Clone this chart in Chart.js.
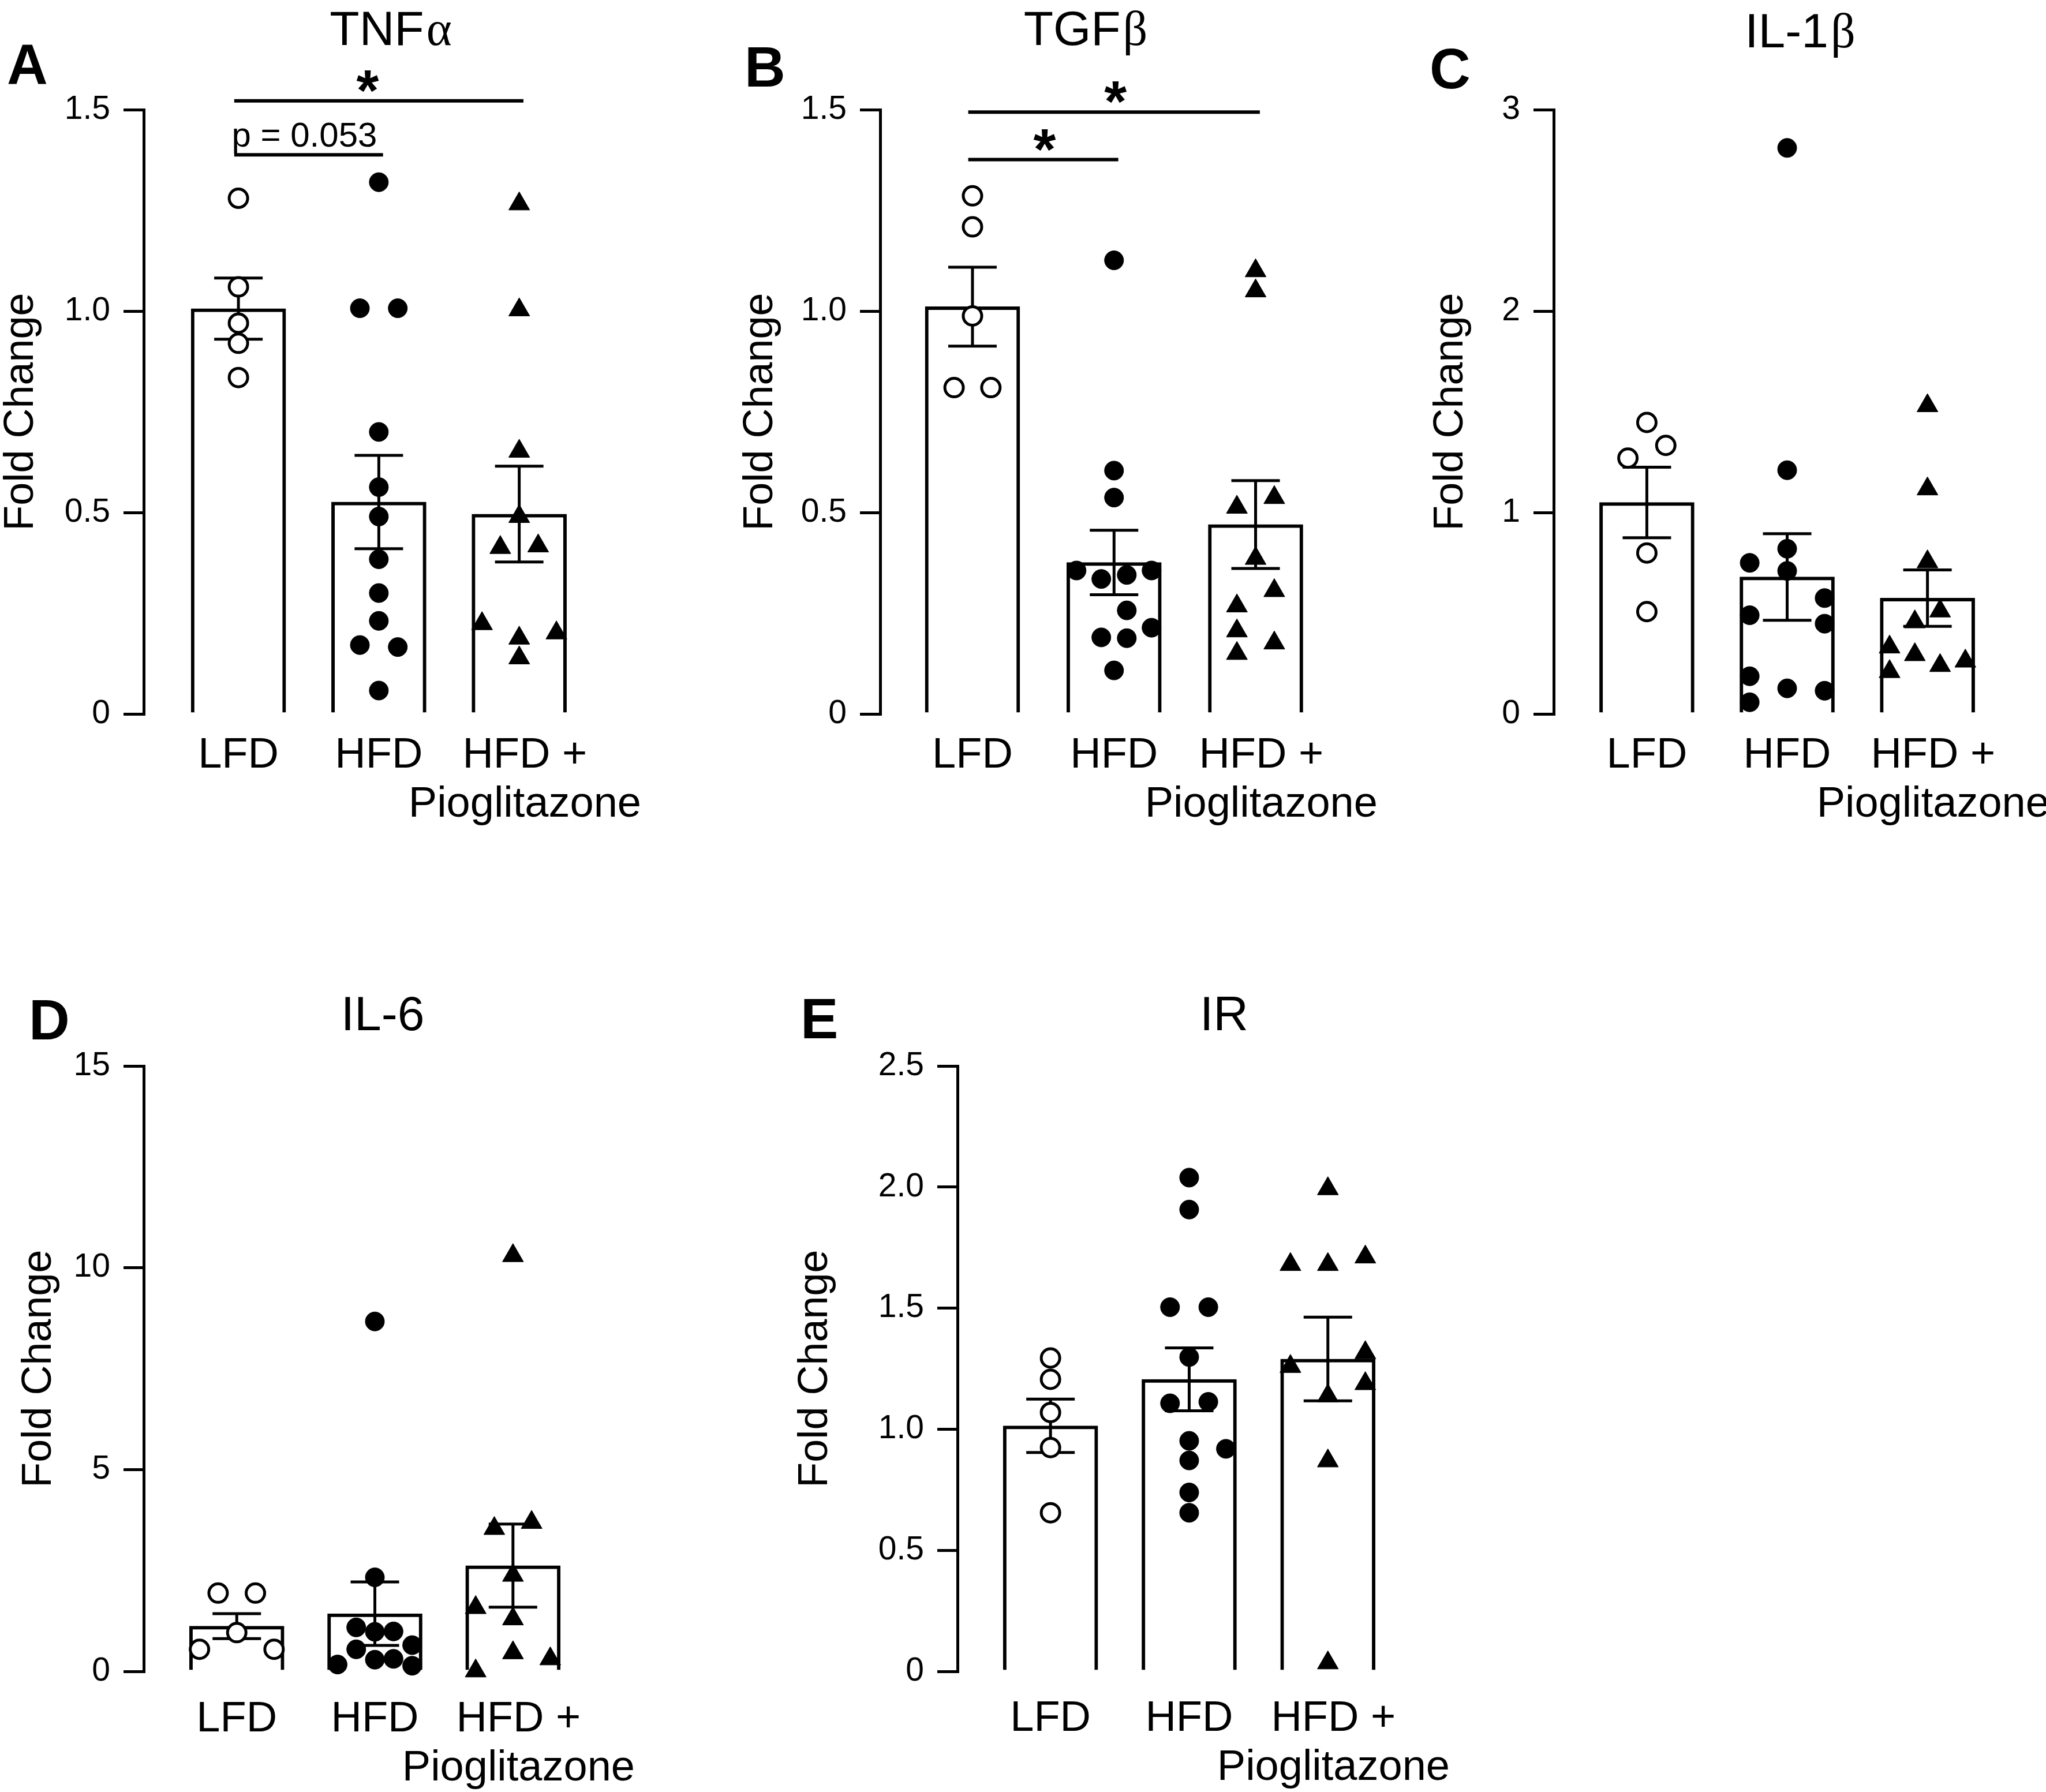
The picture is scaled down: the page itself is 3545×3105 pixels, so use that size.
<!DOCTYPE html>
<html>
<head>
<meta charset="utf-8">
<script src="https://cdn.jsdelivr.net/npm/chart.js@4.4.1/dist/chart.umd.min.js"></script>
<style>
html, body { margin: 0; padding: 0; background: #fff; overflow: hidden; }
#page { position: relative; width: 3545px; height: 3105px; background: #fff; }
canvas { position: absolute; }
</style>
</head>
<body>
<div id="page">
  <canvas id="tnf"></canvas>
  <canvas id="tgf"></canvas>
  <canvas id="il1"></canvas>
  <canvas id="il6"></canvas>
  <canvas id="ir"></canvas>
</div>
<script>
// groups on the x axis
const groups = ['LFD', 'HFD', ['HFD +', 'Pioglitazone']];

// A - TNFα
const tnfPoints = [
  [1.28, 1.06, 0.97, 0.92, 0.835],
  [1.32, 1.007, 1.007, 0.70, 0.563, 0.49, 0.384, 0.30, 0.231, 0.171, 0.166, 0.058],
  [1.266, 1.003, 0.652, 0.49, 0.413, 0.417, 0.224, 0.188, 0.201, 0.139]
];
const tnfJitter = [
  [0, 0, 0, 0, 0],
  [0, -0.135, 0.135, 0, 0, 0, 0, 0, 0, -0.135, 0.135, 0],
  [0, 0, 0, 0, -0.135, 0.135, -0.265, 0, 0.265, 0]
];
const tnfMean = [1.006, 0.526, 0.496];
const tnfSem = [0.076, 0.116, 0.119];
const tnfTicks = [0, 0.5, 1, 1.5];
const tnfTickLabels = ['0', '0.5', '1.0', '1.5'];
// [from group, to group, height, label, label at]
const tnfSig = [[0, 2, 1.522, '*', 0.92], [0, 1, 1.388, 'p = 0.053', 0.47]];

// B - TGFβ
const tgfPoints = [
  [1.286, 1.209, 0.988, 0.81, 0.81],
  [1.126, 0.604, 0.537, 0.356, 0.356, 0.335, 0.345, 0.257, 0.214, 0.19, 0.188, 0.108],
  [1.10, 1.05, 0.513, 0.537, 0.386, 0.306, 0.268, 0.206, 0.176, 0.15]
];
const tgfJitter = [
  [0, 0, 0, -0.13, 0.13],
  [0, 0, 0, -0.265, 0.265, -0.09, 0.09, 0.09, 0.265, -0.09, 0.09, 0],
  [0, 0, -0.132, 0.132, 0, 0.132, -0.132, -0.132, 0.132, -0.132]
];
const tgfMean = [1.011, 0.376, 0.47];
const tgfSem = [0.098, 0.08, 0.109];
const tgfTicks = [0, 0.5, 1, 1.5];
const tgfTickLabels = ['0', '0.5', '1.0', '1.5'];
const tgfSig = [[0, 2, 1.494, '*', 1.01], [0, 1, 1.376, '*', 0.51]];

// C - IL-1β
const il1Points = [
  [1.447, 1.333, 1.27, 0.799, 0.508],
  [2.81, 1.21, 0.82, 0.75, 0.71, 0.575, 0.49, 0.448, 0.187, 0.127, 0.115, 0.058],
  [1.53, 1.117, 0.755, 0.511, 0.457, 0.332, 0.294, 0.24, 0.262, 0.21]
];
const il1Jitter = [
  [0, 0.135, -0.135, 0, 0],
  [0, 0, 0, -0.267, 0, 0.267, -0.267, 0.267, -0.267, 0, 0.267, -0.267],
  [0, 0, 0, 0.09, -0.09, -0.27, -0.09, 0.09, 0.27, -0.27]
];
const il1Mean = [1.05, 0.68, 0.575];
const il1Sem = [0.175, 0.215, 0.14];
const il1Ticks = [0, 1, 2, 3];
const il1TickLabels = ['0', '1', '2', '3'];

// D - IL-6
const il6Points = [
  [1.94, 1.94, 0.96, 0.547, 0.547],
  [8.67, 2.33, 1.09, 0.98, 0.99, 0.547, 0.65, 0.17, 0.29, 0.31, 0.14],
  [10.3, 3.69, 3.54, 2.38, 1.58, 1.30, 0.46, 0.31, 0.01]
];
const il6Jitter = [
  [-0.135, 0.135, 0, -0.27, 0.27],
  [0, 0, -0.135, 0, 0.135, -0.135, 0.27, -0.27, 0, 0.135, 0.27],
  [0, 0.135, -0.135, 0, -0.27, 0, 0, 0.27, -0.27]
];
const il6Mean = [1.12, 1.43, 2.62];
const il6Sem = [0.31, 0.785, 1.03];
const il6Ticks = [0, 5, 10, 15];
const il6TickLabels = ['0', '5', '10', '15'];

// E - IR
const irPoints = [
  [1.294, 1.206, 1.069, 0.924, 0.655],
  [2.039, 1.907, 1.504, 1.504, 1.298, 1.107, 1.113, 0.952, 0.919, 0.871, 0.739, 0.655],
  [1.993, 1.68, 1.68, 1.711, 1.316, 1.259, 1.188, 1.138, 0.869, 0.035]
];
const irJitter = [
  [0, 0, 0, 0, 0],
  [0, 0, -0.138, 0.138, 0, -0.138, 0.138, 0, 0.265, 0, 0, 0],
  [0, -0.27, 0, 0.27, 0.27, -0.27, 0.27, 0, 0, 0]
];
const irMean = [1.014, 1.206, 1.29];
const irSem = [0.11, 0.13, 0.173];
const irTicks = [0, 0.5, 1, 1.5, 2, 2.5];
const irTickLabels = ['0', '0.5', '1.0', '1.5', '2.0', '2.5'];

const SANS = '"Liberation Sans", Arial, Helvetica, sans-serif';
const SERIF = '"Liberation Serif", "Times New Roman", serif';
Chart.defaults.font.family = SANS;
Chart.defaults.color = '#000';

const panels = [
  { id: 'tnf', letter: 'A', name: 'TNF', greek: 'α', points: tnfPoints, jitter: tnfJitter, mean: tnfMean, sem: tnfSem,
    max: 1.5, ticks: tnfTicks, tickLabels: tnfTickLabels, sig: tnfSig,
    left: 0, top: 0, axisX: 249, firstX: 418.6, spacing: 251.4, plotTop: 190, plotBottom: 1237,
    titleX: 677, titleY: 47.5, letterX: 12, letterY: 110, yTitleX: 37, labelPad: 30, xAxisH: 200 },
  { id: 'tgf', letter: 'B', name: 'TGF', greek: 'β', points: tgfPoints, jitter: tgfJitter, mean: tgfMean, sem: tgfSem,
    max: 1.5, ticks: tgfTicks, tickLabels: tgfTickLabels, sig: tgfSig,
    left: 1250, top: 0, axisX: 1525, firstX: 1690, spacing: 253, plotTop: 190, plotBottom: 1237,
    titleX: 1881, titleY: 48, letterX: 1290, letterY: 115, yTitleX: 1318, labelPad: 30, xAxisH: 200 },
  { id: 'il1', letter: 'C', name: 'IL-1', greek: 'β', points: il1Points, jitter: il1Jitter, mean: il1Mean, sem: il1Sem,
    max: 3, ticks: il1Ticks, tickLabels: il1TickLabels, sig: [],
    left: 2460, top: 0, axisX: 2692, firstX: 2859, spacing: 251.5, plotTop: 190, plotBottom: 1237,
    titleX: 3119, titleY: 52, letterX: 2477, letterY: 118, yTitleX: 2514, labelPad: 30, xAxisH: 200 },
  { id: 'il6', letter: 'D', name: 'IL-6', greek: '', points: il6Points, jitter: il6Jitter, mean: il6Mean, sem: il6Sem,
    max: 15, ticks: il6Ticks, tickLabels: il6TickLabels, sig: [],
    left: 0, top: 1650, axisX: 249, firstX: 418.6, spacing: 251.7, plotTop: 1847, plotBottom: 2896,
    titleX: 663, titleY: 1755, letterX: 50, letterY: 1766, yTitleX: 68, labelPad: 41, xAxisH: 209 },
  { id: 'ir', letter: 'E', name: 'IR', greek: '', points: irPoints, jitter: irJitter, mean: irMean, sem: irSem,
    max: 2.5, ticks: irTicks, tickLabels: irTickLabels, sig: [],
    left: 1340, top: 1650, axisX: 1659, firstX: 1828, spacing: 252, plotTop: 1847, plotBottom: 2896,
    titleX: 2121, titleY: 1755, letterX: 1387, letterY: 1764, yTitleX: 1413, labelPad: 40, xAxisH: 209 }
];

// marker look for each group: open circle, filled circle, filled triangle
const markerStyles = [
  { pointStyle: 'circle', pointRadius: 16, pointBackgroundColor: '#fff', pointBorderColor: '#000', pointBorderWidth: 5 },
  { pointStyle: 'circle', pointRadius: 16.5, pointBackgroundColor: '#000', pointBorderColor: '#000', pointBorderWidth: 1 },
  { pointStyle: 'triangle', pointRadius: 21, pointBackgroundColor: '#000', pointBorderColor: '#000', pointBorderWidth: 1 }
];

// label spots under the bars (third one sits a bit to the right in the original)
const labelSpots = [0, 1, 2.04];

function errorBarPlugin(p) {
  return {
    id: 'errorBars',
    afterDatasetDraw(chart, args) {
      if (args.index !== 0) return;
      const { ctx, scales: { x, y } } = chart;
      ctx.save();
      ctx.strokeStyle = '#000';
      ctx.lineWidth = 5;
      p.mean.forEach((m, i) => {
        const px = x.getPixelForValue(i);
        const hi = y.getPixelForValue(m + p.sem[i]);
        const lo = y.getPixelForValue(m - p.sem[i]);
        ctx.beginPath();
        ctx.moveTo(px, hi); ctx.lineTo(px, lo);
        ctx.moveTo(px - 42, hi); ctx.lineTo(px + 42, hi);
        ctx.moveTo(px - 42, lo); ctx.lineTo(px + 42, lo);
        ctx.stroke();
      });
      ctx.restore();
    }
  };
}

function inkCentered(ctx, text, cx, cy) {
  const m = ctx.measureText(text);
  ctx.textAlign = 'left';
  ctx.textBaseline = 'alphabetic';
  const x = cx - (m.actualBoundingBoxRight - m.actualBoundingBoxLeft) / 2;
  const y = cy + (m.actualBoundingBoxAscent - m.actualBoundingBoxDescent) / 2;
  ctx.fillText(text, x, y);
}

function decoPlugin(p) {
  return {
    id: 'deco',
    afterDraw(chart) {
      const { ctx, scales: { x, y } } = chart;
      const ox = p.left, oy = p.top;
      ctx.save();
      ctx.fillStyle = '#000';
      ctx.strokeStyle = '#000';
      ctx.textBaseline = 'alphabetic';
      ctx.textAlign = 'left';

      // panel letter
      ctx.font = 'bold 98px ' + SANS;
      ctx.fillText(p.letter, p.letterX - ox, p.letterY - oy + 0.716 * 98 / 2);

      // gene name, greek letter in serif
      const size = 84;
      ctx.font = size + 'px ' + SANS;
      const w1 = ctx.measureText(p.name).width;
      ctx.font = size + 'px ' + SERIF;
      const w2 = p.greek ? ctx.measureText(p.greek).width + 4 : 0;
      const tx = p.titleX - ox - (w1 + w2) / 2;
      const ty = p.titleY - oy + 0.716 * size / 2;
      ctx.font = size + 'px ' + SANS;
      ctx.fillText(p.name, tx, ty);
      if (p.greek) {
        ctx.font = size + 'px ' + SERIF;
        ctx.fillText(p.greek, tx + w1 + 4, ty);
      }

      // significance bars
      p.sig.forEach(([a, b, v, label, at]) => {
        const x1 = x.getPixelForValue(a - 0.03);
        const x2 = x.getPixelForValue(b + 0.03);
        const py = y.getPixelForValue(v);
        ctx.lineWidth = 6;
        ctx.beginPath();
        ctx.moveTo(x1, py); ctx.lineTo(x2, py);
        ctx.stroke();
        const mid = x.getPixelForValue(at);
        if (label === '*') {
          ctx.font = 'bold 100px ' + SANS;
          inkCentered(ctx, label, mid, py - 34);
        } else {
          ctx.font = '60px ' + SANS;
          ctx.textAlign = 'center';
          ctx.fillText(label, mid, py - 14);
          ctx.textAlign = 'left';
        }
      });
      ctx.restore();
    }
  };
}

function makePanel(p) {
  const canvas = document.getElementById(p.id);
  const yW = p.axisX - p.left;
  const xMin = -(p.firstX - p.axisX) / p.spacing;
  const xMax = 2.85;
  const plotW = (xMax - xMin) * p.spacing;
  canvas.width = Math.ceil(yW + plotW + 10);
  canvas.height = p.plotBottom - p.top + p.xAxisH;
  canvas.style.left = p.left + 'px';
  canvas.style.top = p.top + 'px';

  const datasets = [{
    type: 'bar',
    data: p.mean.map((m, i) => ({ x: i, y: m })),
    backgroundColor: '#fff',
    borderColor: '#000',
    borderWidth: 6,
    borderSkipped: 'start',
    barThickness: 164,
    order: 2
  }];
  p.points.forEach((vals, g) => {
    datasets.push(Object.assign({
      type: 'scatter',
      data: vals.map((v, k) => ({ x: g + p.jitter[g][k], y: v })),
      clip: false,
      order: 1
    }, markerStyles[g]));
  });

  new Chart(canvas, {
    type: 'bar',
    data: { datasets },
    options: {
      responsive: false,
      animation: false,
      devicePixelRatio: 1,
      events: [],
      layout: { padding: { top: p.plotTop - p.top, right: 10, left: 0, bottom: 0 } },
      plugins: { legend: { display: false }, tooltip: { enabled: false } },
      scales: {
        x: {
          type: 'linear',
          min: xMin,
          max: xMax,
          offset: false,
          afterBuildTicks: s => { s.ticks = labelSpots.map(v => ({ value: v })); },
          afterFit: s => { s.height = p.xAxisH; },
          ticks: {
            autoSkip: false, maxRotation: 0, minRotation: 0,
            padding: p.labelPad,
            font: { size: 74, lineHeight: 1.145 },
            color: '#000',
            callback: (v, i) => groups[i]
          },
          grid: { display: false, drawTicks: false },
          border: { display: false }
        },
        y: {
          type: 'linear',
          min: 0,
          max: p.max,
          afterBuildTicks: s => { s.ticks = p.ticks.map(v => ({ value: v })); },
          afterFit: s => { s.width = yW; },
          ticks: {
            padding: 23,
            font: { size: 57 },
            color: '#000',
            callback: (v, i) => p.tickLabels[i]
          },
          grid: { drawOnChartArea: false, drawTicks: true, tickLength: 35, color: '#000', lineWidth: 5 },
          border: { display: true, color: '#000', width: 5 },
          title: {
            display: true,
            text: 'Fold Change',
            color: '#000',
            font: { size: 72, lineHeight: 1 },
            padding: { top: p.yTitleX - p.left - 36, bottom: 0 }
          }
        }
      }
    },
    plugins: [errorBarPlugin(p), decoPlugin(p)]
  });
}

panels.forEach(makePanel);
</script>
</body>
</html>
